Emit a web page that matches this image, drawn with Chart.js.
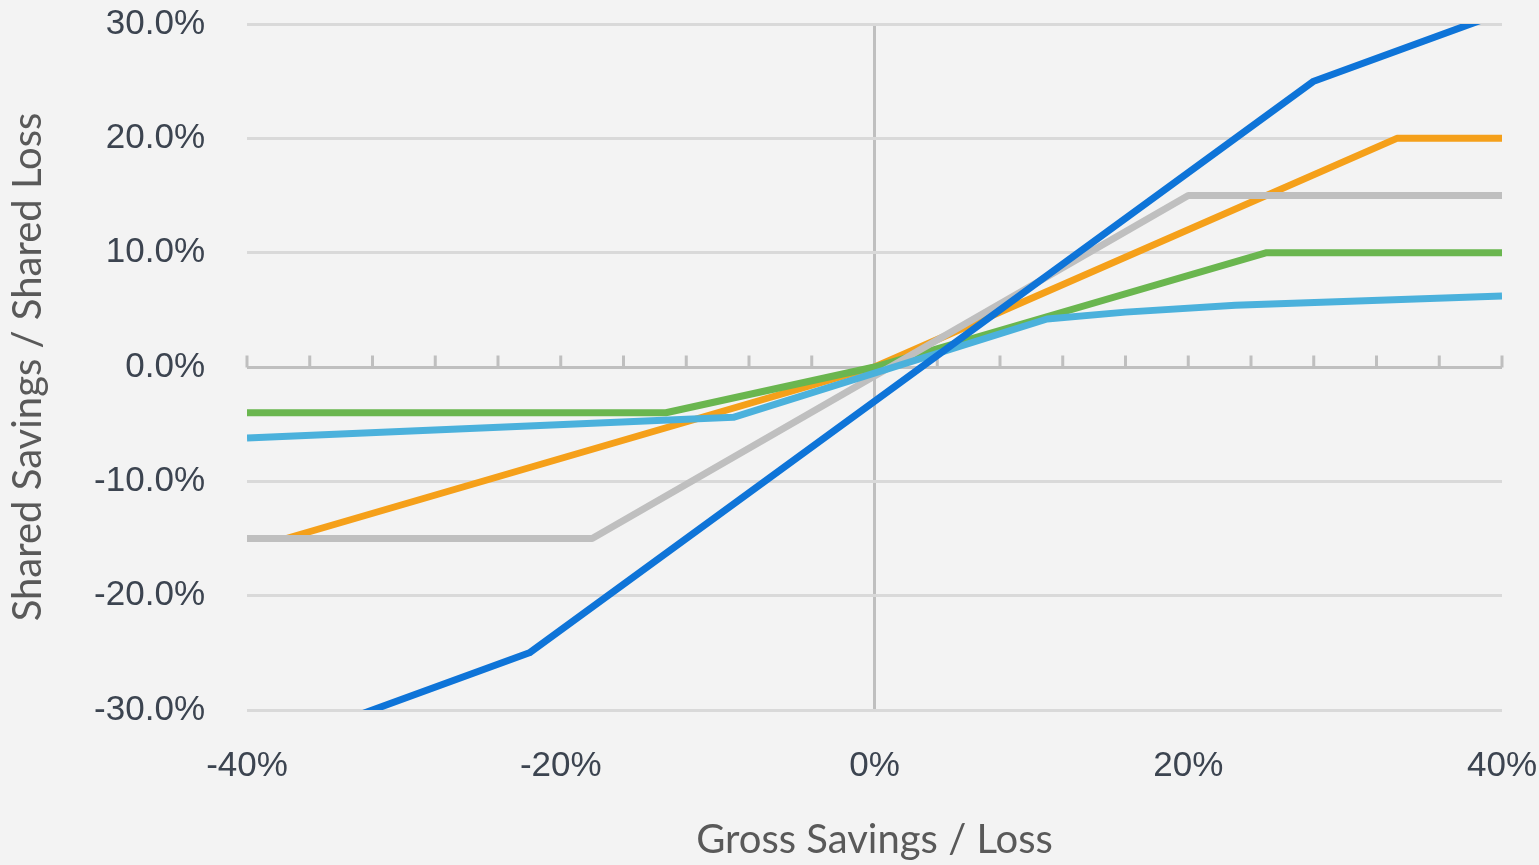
<!DOCTYPE html>
<html>
<head>
<meta charset="utf-8">
<title>Shared Savings / Shared Loss</title>
<script src="https://cdn.jsdelivr.net/npm/chart.js@4.4.1/dist/chart.umd.min.js"></script>
<style>
  html, body { margin: 0; padding: 0; background: #f3f3f3; }
  #wrap { width: 1539px; height: 865px; }
  canvas { display: block; }
</style>
</head>
<body>
<div id="wrap"><canvas id="chart" width="1539" height="865"></canvas></div>
<script>
// Gross savings (%) break points and the shared savings (%) at each, per track
const blueGross = [-40, -22, 28, 40];
const blueShared = [-34, -25, 25, 31];

const lightBlueGross = [-40, -9, 11, 16, 23, 40];
const lightBlueShared = [-6.2, -4.4, 4.2, 4.8, 5.4, 6.2];

const grayGross = [-40, -18, 20, 40];
const grayShared = [-15, -15, 15, 15];

const greenGross = [-40, -13.3, 0, 25, 40];
const greenShared = [-4, -4, 0, 10, 10];

const orangeGross = [-40, -37.5, 0, 33.3, 40];
const orangeShared = [-15, -15, 0, 20, 20];

// Axis ranges and tick labels
const xTickValues = [-40, -20, 0, 20, 40];
const yTickValues = [-30, -20, -10, 0, 10, 20, 30];
const xTickLabel = v => v + '%';
const yTickLabel = v => v.toFixed(1) + '%';

const pairs = (xs, ys) => xs.map((x, i) => ({ x: x, y: ys[i] }));

const line = (label, xs, ys, color) => ({
  label: label,
  data: pairs(xs, ys),
  borderColor: color,
  backgroundColor: color,
  borderWidth: 7,
  pointRadius: 0,
  pointHoverRadius: 0,
  fill: false,
  tension: 0,
  borderJoinStyle: 'round',
  clip: 0
});

// Small upward tick marks along the zero line
const zeroAxisTicks = {
  id: 'zeroAxisTicks',
  beforeDatasetsDraw(chart) {
    const { ctx, scales: { x, y } } = chart;
    const y0 = Math.round(y.getPixelForValue(0)) + 0.5;
    ctx.save();
    ctx.strokeStyle = '#bfbfbf';
    ctx.lineWidth = 3;
    ctx.beginPath();
    for (let v = x.min; v <= x.max + 1e-9; v += 4) {
      const px = x.getPixelForValue(v);
      ctx.moveTo(px, y0);
      ctx.lineTo(px, y0 - 12);
    }
    ctx.stroke();
    ctx.restore();
  }
};

new Chart(document.getElementById('chart'), {
  type: 'line',
  data: {
    datasets: [
      line('Track 1', blueGross, blueShared, '#0e74d8'),
      line('Track 2', lightBlueGross, lightBlueShared, '#4bb1dc'),
      line('Track 3', grayGross, grayShared, '#bfbfbf'),
      line('Track 4', greenGross, greenShared, '#6ab64f'),
      line('Track 5', orangeGross, orangeShared, '#f5a01a')
    ]
  },
  options: {
    responsive: false,
    animation: false,
    events: [],
    layout: { padding: { top: 24, right: 37, left: 0, bottom: 0 } },
    plugins: {
      legend: { display: false },
      tooltip: { enabled: false }
    },
    scales: {
      x: {
        type: 'linear',
        min: -40,
        max: 40,
        afterBuildTicks: s => { s.ticks = xTickValues.map(v => ({ value: v })); },
        afterFit: s => { s.height = 155; s.paddingLeft = 0; s.paddingRight = 0; },
        border: { display: false },
        grid: {
          drawTicks: false,
          lineWidth: 3,
          color: c => (c.tick && c.tick.value === 0 ? '#bfbfbf' : 'rgba(0,0,0,0)')
        },
        ticks: {
          padding: 35,
          color: '#3c4450',
          font: { family: '"Liberation Sans", Arial, sans-serif', size: 35 },
          callback: v => xTickLabel(v),
          maxRotation: 0
        },
        title: {
          display: true,
          text: 'Gross Savings / Loss',
          color: '#595959',
          font: { family: 'Lato, "Open Sans", sans-serif', size: 40 },
          padding: { top: 0, bottom: 1 }
        }
      },
      y: {
        type: 'linear',
        min: -30,
        max: 30,
        afterBuildTicks: s => { s.ticks = yTickValues.map(v => ({ value: v })); },
        afterFit: s => { s.width = 247; s.paddingTop = 0; s.paddingBottom = 0; },
        border: { display: false },
        grid: {
          drawTicks: false,
          lineWidth: 3,
          color: c => (c.tick && c.tick.value === 0 ? '#bfbfbf' : '#d9d9d9')
        },
        ticks: {
          padding: 42,
          color: '#3c4450',
          font: { family: '"Liberation Sans", Arial, sans-serif', size: 35 },
          callback: v => yTickLabel(v)
        },
        title: {
          display: true,
          text: 'Shared Savings / Shared Loss',
          color: '#595959',
          font: { family: 'Lato, "Open Sans", sans-serif', size: 40 },
          padding: { top: 4, bottom: 0 }
        }
      }
    }
  },
  plugins: [zeroAxisTicks]
});
</script>
</body>
</html>
